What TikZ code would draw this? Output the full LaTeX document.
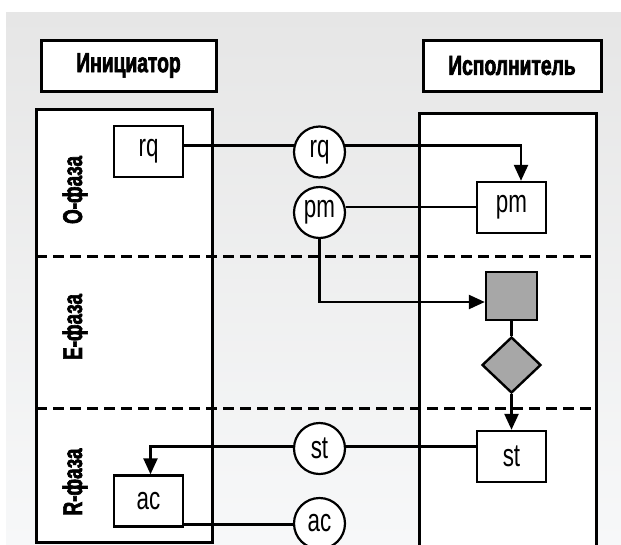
\documentclass[tikz,border=0pt]{standalone}
\usepackage{fontspec}
\setmainfont{Liberation Sans}
\newfontfamily\hdfont[FakeStretch=0.7,FakeBold=2.4]{Liberation Sans}
\newfontfamily\smfont[FakeStretch=0.7]{Liberation Sans}
\usetikzlibrary{shapes.geometric,arrows.meta}
\definecolor{bgtop}{HTML}{E6E6E6}
\definecolor{bgbot}{HTML}{F7F8F9}
\definecolor{shade}{HTML}{A7A7A7}
\tikzset{
  colbox/.style={draw, line width=3pt, fill=white},
  hdr/.style={draw, line width=3pt, fill=white, minimum height=51pt, inner sep=0pt,
    font=\hdfont\bfseries\fontsize{27.5}{28}\selectfont},
  msgbox/.style={draw, line width=2.4pt, fill=white, minimum width=69pt, minimum height=51pt, inner sep=0pt,
    font=\smfont\fontsize{32}{32}\selectfont},
  msgcirc/.style={draw, circle, line width=2.2pt, fill=white, minimum size=51pt, inner sep=0pt,
    font=\smfont\fontsize{32}{32}\selectfont},
  phase/.style={rotate=90, inner sep=0pt, font=\hdfont\bfseries\fontsize{27}{27}\selectfont},
  conn/.style={line width=2.4pt},
  arr/.style={line width=2.4pt, -{Triangle[length=16pt,width=14pt]}},
  dsh/.style={line width=3pt, dash pattern=on 11pt off 6pt},
  grayshape/.style={draw, line width=2.4pt, fill=shade, inner sep=0pt}
}
\begin{document}
\begin{tikzpicture}[x=1pt,y=-1pt]
\useasboundingbox (0,0) rectangle (621,544);
\fill[white] (0,0) rectangle (621,544);
\fill[top color=bgtop, bottom color=bgbot] (6,12) rectangle (621,544);

% columns
\draw[colbox] (36,109) rectangle (212,542);
\draw[colbox] (419,113) rectangle (596,570);

% phase separators
\coordinate (d1a) at (36,256);
\coordinate (d1b) at (598,256);
\coordinate (d2a) at (36,408);
\coordinate (d2b) at (598,408);
\draw[dsh] (d1a) -- (d1b);
\draw[dsh] (d2a) -- (d2b);

% headers
\node[hdr, minimum width=175pt] (hI) at (128.5,65.5) {Инициатор};
\node[hdr, minimum width=178pt] (hE) at (512,65.5) {Исполнитель};

% phase labels
\node[phase] (pO) at (75,190) {О-фаза};
\node[phase] (pE) at (75,327) {Е-фаза};
\node[phase] (pR) at (75,482) {R-фаза};

% message boxes and circles
\node[msgbox] (rqb) at (148.5,151.5) {rq};
\node[msgcirc] (rqc) at (319.5,152) {rq};
\node[msgcirc] (pmc) at (319.5,212.5) {pm};
\node[msgbox] (pmb) at (511.5,207.5) {pm};
\node[grayshape, minimum width=51pt, minimum height=48pt] (sq) at (511.5,296) {};
\node[grayshape, diamond, minimum width=59pt, minimum height=56pt] (dia) at (511.5,365) {};
\node[msgbox] (stb) at (511.5,456.5) {st};
\node[msgcirc] (stc) at (319.5,448.5) {st};
\node[msgbox] (acb) at (148.5,501) {ac};
\node[msgcirc] (acc) at (319.5,523.5) {ac};

% connectors
\draw[conn] (rqb.east |- rqc.166) -- (rqc.166);
\draw[arr] (rqc.14) -| ([xshift=9.5pt]pmb.north);
\draw[conn] (pmc.12) -- (pmc.12 -| pmb.west);
\draw[arr] (pmc.south) |- ([yshift=-6pt]sq.west);
\draw[conn] (sq.south) -- (dia.north);
\draw[arr] (dia.south) -- (stb.north);
\draw[conn] (stb.west |- stc.4) -- (stc.4);
\draw[arr] (stc.176) -| ([xshift=2pt]acb.north);
\draw[conn] (acb.east |- acc.182) -- (acc.182);
\end{tikzpicture}
\end{document}
